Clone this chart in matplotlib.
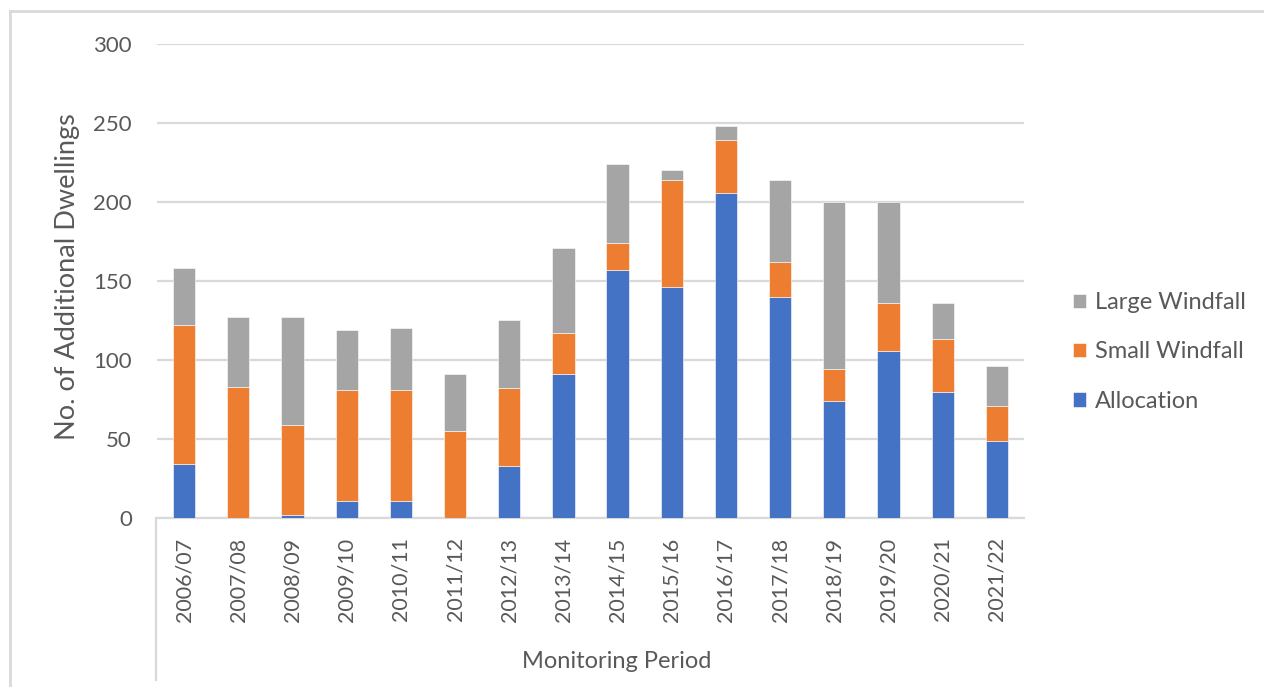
import matplotlib
matplotlib.use("Agg")
import matplotlib.pyplot as plt
from matplotlib.lines import Line2D
import numpy as np

periods = ["2006/07", "2007/08", "2008/09", "2009/10", "2010/11", "2011/12",
           "2012/13", "2013/14", "2014/15", "2015/16", "2016/17", "2017/18",
           "2018/19", "2019/20", "2020/21", "2021/22"]
allocation = [34, 0, 2, 11, 11, 0, 33, 91, 157, 146, 206, 140, 74, 106, 80, 49]
small_windfall = [88, 83, 57, 70, 70, 55, 49, 26, 17, 68, 33, 22, 20, 30, 33, 22]
large_windfall = [36, 44, 68, 38, 39, 36, 43, 54, 50, 6, 9, 52, 106, 64, 23, 25]
y_ticks = [0, 50, 100, 150, 200, 250, 300]

C_BLUE = "#4472C4"
C_ORANGE = "#ED7D31"
C_GRAY = "#A5A5A5"
TXT = "#595959"
GRID = "#D9D9D9"

plt.rcParams['font.family'] = ['Lato', 'DejaVu Sans']

W, H = 1264, 687
fig = plt.figure(figsize=(W / 100, H / 100), dpi=100)
ax = fig.add_axes([157 / W, 1 - 518 / H, (1024 - 157) / W, (518 - 44) / H])

x = np.arange(len(periods))
a = np.array(allocation)
s = np.array(small_windfall)
l = np.array(large_windfall)
bw = 0.41
ax.bar(x, a, bw, color=C_BLUE, edgecolor="#FFFFFF", linewidth=0.4, label="Allocation", zorder=3)
ax.bar(x, s, bw, bottom=a, color=C_ORANGE, edgecolor="#FFFFFF", linewidth=0.4, label="Small Windfall", zorder=3)
ax.bar(x, l, bw, bottom=a + s, color=C_GRAY, edgecolor="#FFFFFF", linewidth=0.4, label="Large Windfall", zorder=3)

ax.set_xlim(-0.5, len(periods) - 0.5)
ax.set_ylim(0, 300)
ax.set_yticks(y_ticks)
ax.yaxis.grid(True, color=GRID, linewidth=1.6, zorder=0)
ax.set_axisbelow(True)
for sp in ["top", "right", "left"]:
    ax.spines[sp].set_visible(False)
ax.spines["bottom"].set_color(GRID)
ax.spines["bottom"].set_linewidth(1.6)
ax.tick_params(axis="both", length=0, colors=TXT)
ax.tick_params(axis="y", pad=18, labelsize=16)
ax.tick_params(axis="x", pad=14, labelsize=15.5)
ax.set_xticks(x)
ax.set_xticklabels(periods, rotation=90, va="top")

ax.set_ylabel("No. of Additional Dwellings", fontsize=19.5, color=TXT)
ax.yaxis.label.set_va("center")
ax.yaxis.set_label_coords((67.5 - 157) / (1024 - 157), (518 - 276.5) / (518 - 44))
fig.text(617 / W, 1 - 662 / H, "Monitoring Period", ha="center", va="center", fontsize=17, color=TXT)

# category axis left divider and outer frame
fig.add_artist(Line2D([156 / W, 156 / W], [1 - 518 / H, 1 - 680 / H], color=GRID, linewidth=1.6))
fig.add_artist(Line2D([10.5 / W, 1.0], [1 - 11 / H, 1 - 11 / H], color=GRID, linewidth=2))
fig.add_artist(Line2D([10.5 / W, 10.5 / W], [0, 1 - 11 / H], color=GRID, linewidth=2))

handles, labels = ax.get_legend_handles_labels()
leg = fig.legend(handles[::-1], labels[::-1], loc="center left",
                 bbox_to_anchor=(1064 / W, 1 - 352 / H), frameon=False,
                 fontsize=17, handlelength=0.55, handleheight=0.55,
                 handletextpad=0.35, labelspacing=1.2, borderaxespad=0)
for t in leg.get_texts():
    t.set_color(TXT)

fig.savefig("out.png", dpi=100)
